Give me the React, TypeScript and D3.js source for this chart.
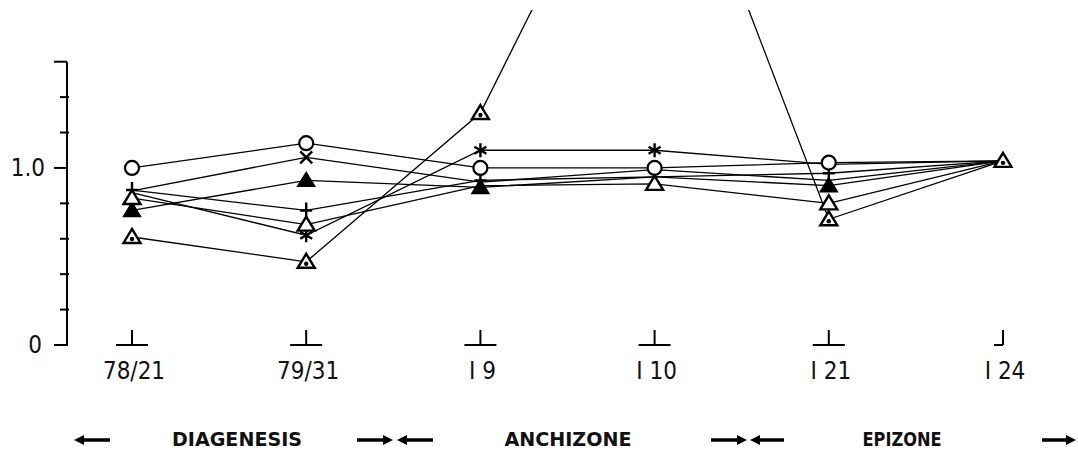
import React from "react";
import { select, scaleLinear, scalePoint, line } from "d3";

// samples along the x axis
const categories = ["78/21", "79/31", "I 9", "I 10", "I 21", "I 24"];

// one list per symbol series (ratio)
const openCircle = [1.0, 1.14, 1.0, 1.0, 1.03, 1.04];
const cross = [0.87, 1.06, 0.92, 0.99, 0.93, 1.04];
const filledTriangle = [0.76, 0.93, 0.89, 0.95, 0.9, 1.04];
const plus = [0.875, 0.76, 0.93, 0.95, 0.97, 1.04];
const openTriangle = [0.83, 0.68, 0.9, 0.91, 0.8, 1.04];
const asterisk = [0.86, 0.62, 1.1, 1.1, 1.02, 1.04];
const dottedTriangle = [0.61, 0.47, 1.31, 3.28, 0.71, 1.04];

const yTicks = [0, 0.2, 0.4, 0.6, 0.8, 1.0, 1.2, 1.4, 1.6];
const yLabelValues = [0, 1.0];
const yLabelTexts = ["0", "1.0"];

const zones = ["DIAGENESIS", "ANCHIZONE", "EPIZONE"];

// symbols covered by another symbol in the drawing
const coveredMarks = [
  "cross@0", "asterisk@0",
  "cross@2", "openTriangle@2",
  "cross@3", "plus@3", "filledTriangle@3",
  "cross@4", "asterisk@4",
  "cross@5", "plus@5", "asterisk@5", "filledTriangle@5", "openTriangle@5", "openCircle@5",
];

const series = [
  { key: "cross", values: cross },
  { key: "plus", values: plus },
  { key: "asterisk", values: asterisk },
  { key: "dottedTriangle", values: dottedTriangle },
  { key: "filledTriangle", values: filledTriangle },
  { key: "openTriangle", values: openTriangle },
  { key: "openCircle", values: openCircle },
];

const W = 1078;
const H = 451;
const font = "'Liberation Sans Narrow','DejaVu Sans Condensed','Roboto Condensed','Liberation Sans',sans-serif";

export default function App() {
  const svgRef = React.useRef<SVGSVGElement>(null);

  React.useEffect(() => {
    const svg = select(svgRef.current);
    svg.selectAll("*").remove();

    const x = scalePoint<string>().domain(categories).range([132, 1003]);
    const y = scaleLinear().domain([0, 1.6]).range([345, 61.7]);
    const axisX = 67;

    // clip for the run-away line
    svg
      .append("defs")
      .append("clipPath")
      .attr("id", "plot-clip")
      .append("rect")
      .attr("x", 0)
      .attr("y", 10)
      .attr("width", W)
      .attr("height", H);

    // y axis
    const ax = svg.append("g").attr("stroke", "#000");
    ax.append("line")
      .attr("x1", axisX).attr("x2", axisX)
      .attr("y1", y(0) + 1).attr("y2", y(1.6))
      .attr("stroke-width", 2);
    yTicks.forEach((t) => {
      const major = t === 0 || t === 1.0 || t === 1.6;
      ax.append("line")
        .attr("x1", major ? axisX - 13 : axisX - 7)
        .attr("x2", major ? axisX : axisX + 2)
        .attr("y1", y(t)).attr("y2", y(t))
        .attr("stroke-width", 2);
    });
    yLabelValues.forEach((v, i) => {
      svg.append("text")
        .attr("x", v === 0 ? 42 : 45)
        .attr("y", y(v) + 8)
        .attr("text-anchor", "end")
        .attr("font-family", font)
        .attr("font-size", 24)
        .attr("fill", "#111")
        .text(yLabelTexts[i]);
    });

    // category ticks and labels
    categories.forEach((c, i) => {
      const cx = x(c) as number;
      const last = i === categories.length - 1;
      const g = svg.append("g").attr("stroke", "#000").attr("stroke-width", 2);
      g.append("line")
        .attr("x1", last ? cx - 9 : cx - 16).attr("x2", last ? cx : cx + 16)
        .attr("y1", 345).attr("y2", 345);
      g.append("line")
        .attr("x1", cx).attr("x2", cx)
        .attr("y1", 330).attr("y2", 345);
      svg.append("text")
        .attr("x", cx + 2)
        .attr("y", 379)
        .attr("text-anchor", "middle")
        .attr("font-family", font)
        .attr("font-size", 24)
        .attr("fill", "#111")
        .text(c);
    });

    // lines
    const path = line<number>()
      .x((_, i) => x(categories[i]) as number)
      .y((d) => y(d));
    const lines = svg.append("g").attr("clip-path", "url(#plot-clip)");
    series.forEach((s) => {
      lines.append("path")
        .attr("d", path(s.values))
        .attr("fill", "none")
        .attr("stroke", "#000")
        .attr("stroke-width", 1.3);
    });

    // symbols
    const tri = "M0,-8L8.5,6L-8.5,6Z";
    const marks = svg.append("g").attr("stroke", "#000");
    series.forEach((s) => {
      s.values.forEach((v, i) => {
        if (coveredMarks.includes(`${s.key}@${i}`)) return;
        const px = x(categories[i]) as number;
        const py = y(v);
        if (py < 10) return;
        const g = marks.append("g").attr("transform", `translate(${px},${py})`);
        if (s.key === "openCircle") {
          g.append("circle").attr("r", 7).attr("fill", "#fff").attr("stroke-width", 2.2);
        } else if (s.key === "openTriangle") {
          g.append("path").attr("d", tri).attr("fill", "#fff").attr("stroke-width", 2.4);
        } else if (s.key === "filledTriangle") {
          g.append("path").attr("d", tri).attr("fill", "#000").attr("stroke-width", 1.5);
        } else if (s.key === "dottedTriangle") {
          g.append("path").attr("d", tri).attr("fill", "#fff").attr("stroke-width", 2.4);
          g.append("circle").attr("cy", 2).attr("r", 2.2).attr("fill", "#000").attr("stroke", "none");
        } else if (s.key === "cross") {
          g.append("path").attr("d", "M-6,-6L6,6M6,-6L-6,6").attr("stroke-width", 2.4);
        } else if (s.key === "plus") {
          g.append("path").attr("d", "M0,-8V7M-6,0H6").attr("stroke-width", 2.4);
        } else if (s.key === "asterisk") {
          g.append("path")
            .attr("d", "M0,-7V7M-6,-3.5L6,3.5M6,-3.5L-6,3.5")
            .attr("stroke-width", 2.4);
        }
      });
    });

    // zone arrows and names
    const arrow = (x0: number, x1: number) => {
      const dir = x1 > x0 ? 1 : -1;
      const ya = 440;
      svg.append("line")
        .attr("x1", x0).attr("x2", x1 - dir * 6)
        .attr("y1", ya).attr("y2", ya)
        .attr("stroke", "#000").attr("stroke-width", 3.5);
      svg.append("path")
        .attr("d", `M${x1},${ya}L${x1 - dir * 10},${ya - 5}L${x1 - dir * 10},${ya + 5}Z`)
        .attr("fill", "#000");
    };
    arrow(110, 74);
    arrow(357, 393);
    arrow(433, 397);
    arrow(711, 747);
    arrow(784, 750);
    arrow(1042, 1076);

    const zoneCenters = [237, 568, 902];
    const zoneWidths = [130, 127, 79];
    zones.forEach((z, i) => {
      svg.append("text")
        .attr("x", zoneCenters[i])
        .attr("y", 446)
        .attr("text-anchor", "middle")
        .attr("font-family", font)
        .attr("font-weight", "bold")
        .attr("font-size", 20)
        .attr("textLength", zoneWidths[i])
        .attr("lengthAdjust", "spacingAndGlyphs")
        .attr("fill", "#111")
        .text(z);
    });
  }, []);

  return (
    <svg
      ref={svgRef}
      width={W}
      height={H}
      style={{ position: "absolute", left: 0, top: 0, background: "#fff" }}
    />
  );
}
